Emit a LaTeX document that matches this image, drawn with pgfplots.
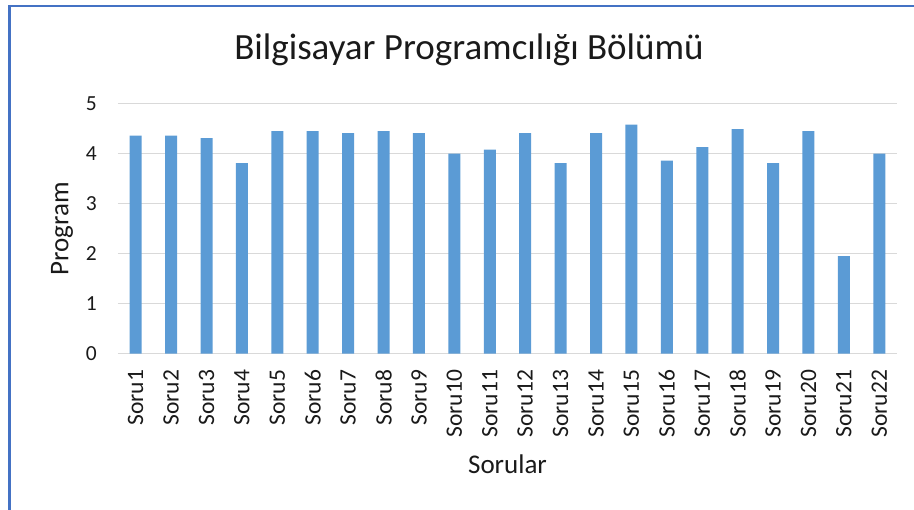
\documentclass[border=0pt]{standalone}
\usepackage{fontspec}
\setmainfont{Carlito}
\usepackage{pgfplots}
\pgfplotsset{compat=1.18}
\definecolor{barblue}{HTML}{5B9BD5}
\definecolor{gridgray}{HTML}{D9D9D9}
\definecolor{frameblue}{HTML}{4472C4}
\definecolor{txt}{HTML}{1A1A1A}
\begin{document}
\begin{tikzpicture}
\path[use as bounding box] (-118pt,-156.3pt) rectangle (796pt,353.7pt);
\draw[frameblue, line width=2.6pt] (-108.5pt,-160pt) -- (-108.5pt,347.7pt) -- (800pt,347.7pt);
\begin{axis}[
  at={(0pt,0pt)}, anchor=south west,
  scale only axis, width=779pt, height=250pt,
  xmin=0.5, xmax=22.5, ymin=0, ymax=5,
  ytick={0,1,2,3,4,5},
  xtick={1,...,22},
  xticklabels={Soru1,Soru2,Soru3,Soru4,Soru5,Soru6,Soru7,Soru8,Soru9,Soru10,Soru11,Soru12,Soru13,Soru14,Soru15,Soru16,Soru17,Soru18,Soru19,Soru20,Soru21,Soru22},
  major tick length=0pt,
  axis line style={draw=none},
  ymajorgrids, grid style={gridgray, line width=1.3pt},
  /pgf/number format/assume math mode=true,
  yticklabel style={font=\fontsize{21.5}{24}\selectfont, text=txt, anchor=east, inner sep=0pt, xshift=-21pt},
  xticklabel style={font=\fontsize{23.5}{26}\selectfont, text=txt, yshift=-16pt, rotate=90, anchor=east, inner sep=0pt},
  every axis y label/.style={at={(axis description cs:0,0.5)}, xshift=-56pt, rotate=90, anchor=center, font=\fontsize{27}{30}\selectfont, text=txt},
  every axis x label/.style={at={(axis description cs:0.5,0)}, anchor=center, yshift=-111pt, font=\fontsize{27}{30}\selectfont, text=txt},
  ylabel={Program}, xlabel={Sorular},
  title={Bilgisayar Programcılığı Bölümü},
  title style={at={(axis description cs:0.5,1)}, anchor=center, xshift=-38.5pt, yshift=47.7pt, font=\fontsize{37}{40}\selectfont, text=txt},
  clip=false,
]
\addplot[ybar, bar width=12pt, fill=barblue, draw=none] coordinates {
(1,4.36) (2,4.36) (3,4.31) (4,3.81) (5,4.45) (6,4.45) (7,4.41) (8,4.45) (9,4.41) (10,4.00) (11,4.08)
(12,4.41) (13,3.81) (14,4.41) (15,4.58) (16,3.86) (17,4.13) (18,4.49) (19,3.81) (20,4.45) (21,1.95) (22,4.00)
};
\end{axis}
\end{tikzpicture}
\end{document}
